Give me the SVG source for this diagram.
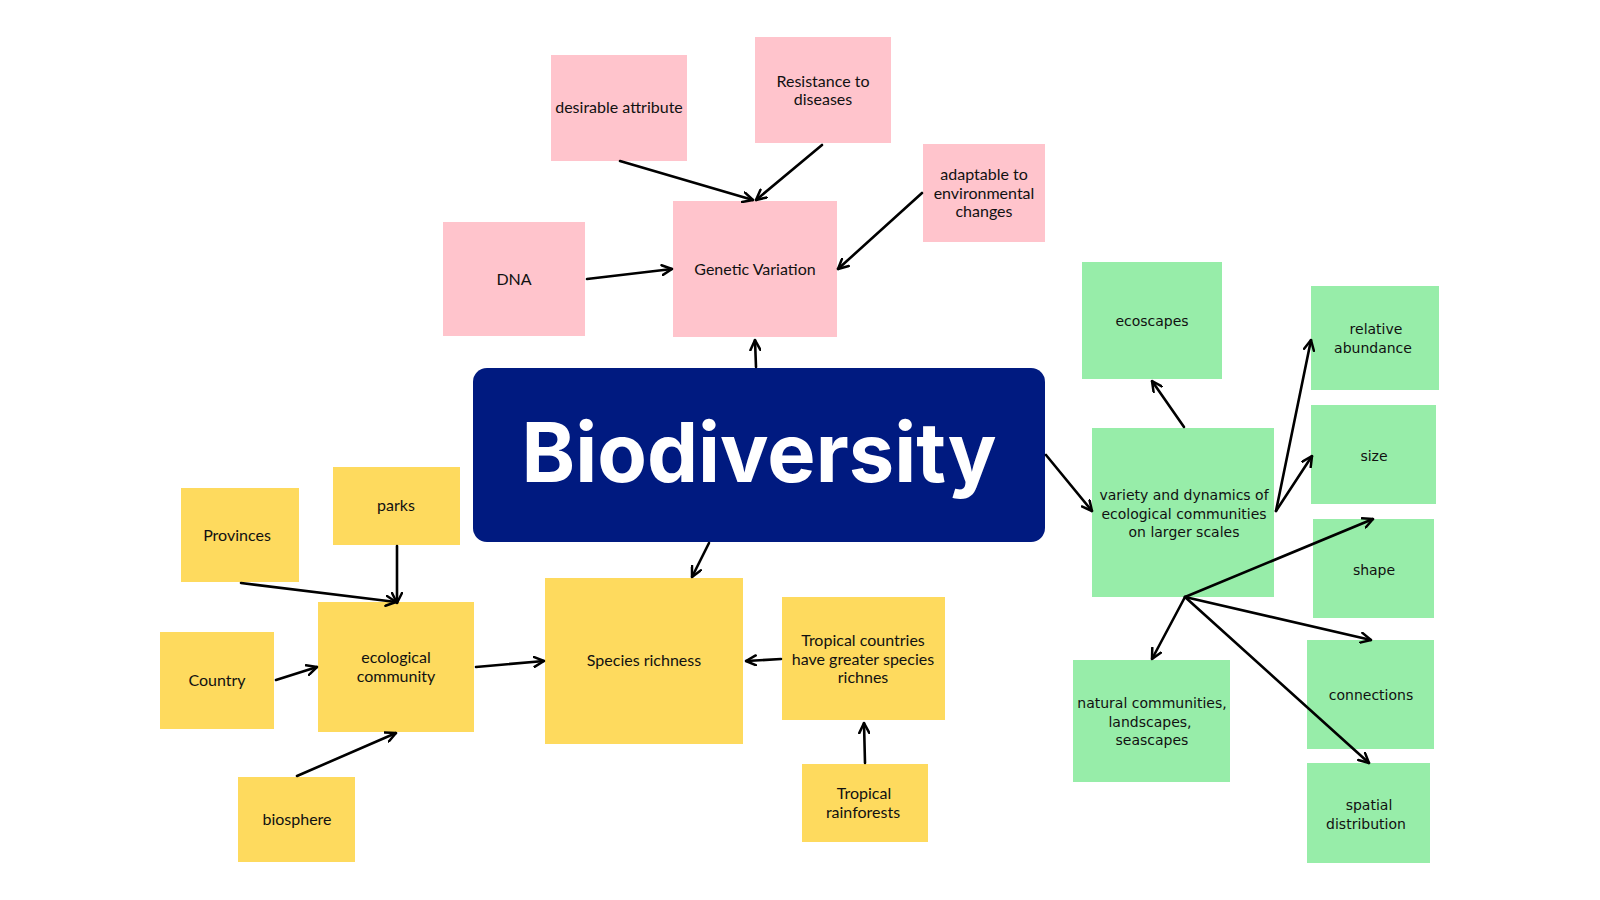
<svg xmlns="http://www.w3.org/2000/svg" width="1600" height="900" viewBox="0 0 1600 900">
<defs>
<marker id="ah" viewBox="0 0 12 12" refX="11" refY="6" markerWidth="12" markerHeight="12" markerUnits="userSpaceOnUse" orient="auto">
<path d="M1,1 L11,6 L1,11" fill="none" stroke="#000" stroke-width="2.5" stroke-linecap="round" stroke-linejoin="round"/>
</marker>
<style>
.pk{fill:#FFC4CC}
.yl{fill:#FEDA5E}
.gr{fill:#97EDA9}
.t{font-family:Lato,"Liberation Sans",sans-serif;font-size:16px;fill:#111;text-anchor:middle}
.g{font-family:"DejaVu Sans","Liberation Sans",sans-serif;font-size:14px;fill:#111;text-anchor:middle}
.c line{stroke:#000;stroke-width:2.6;stroke-linecap:round;marker-end:url(#ah)}
</style>
</defs>
<rect width="1600" height="900" fill="#fff"/>

<g id="n-desirable"><rect class="pk" x="551" y="55" width="136" height="106"/><text class="t" x="619" y="113">desirable attribute</text></g>
<g id="n-resistance"><rect class="pk" x="755" y="37" width="136" height="106"/><text class="t" x="823" y="87">Resistance to</text><text class="t" x="823" y="105">diseases</text></g>
<g id="n-adaptable"><rect class="pk" x="923" y="144" width="122" height="98"/><text class="t" x="984" y="180">adaptable to</text><text class="t" x="984" y="198.5">environmental</text><text class="t" x="984" y="217">changes</text></g>
<g id="n-dna"><rect class="pk" x="443" y="222" width="142" height="114"/><text class="t" x="514" y="285">DNA</text></g>
<g id="n-genetic"><rect class="pk" x="673" y="201" width="164" height="136"/><text class="t" x="755" y="275">Genetic Variation</text></g>

<g id="n-biodiversity"><rect x="473" y="368" width="572" height="174" rx="14" fill="#001A80"/><text x="759" y="482" font-family="Inter,'Liberation Sans',sans-serif" font-weight="700" font-size="82" fill="#fff" text-anchor="middle" textLength="475" lengthAdjust="spacingAndGlyphs">Biodiversity</text></g>

<g id="n-parks"><rect class="yl" x="333" y="467" width="127" height="78"/><text class="t" x="396" y="511">parks</text></g>
<g id="n-provinces"><rect class="yl" x="181" y="488" width="118" height="94"/><text class="t" x="237" y="541">Provinces</text></g>
<g id="n-country"><rect class="yl" x="160" y="632" width="114" height="97"/><text class="t" x="217" y="686">Country</text></g>
<g id="n-ecological"><rect class="yl" x="318" y="602" width="156" height="130"/><text class="t" x="396" y="663">ecological</text><text class="t" x="396" y="681.5">community</text></g>
<g id="n-biosphere"><rect class="yl" x="238" y="777" width="117" height="85"/><text class="t" x="297" y="825">biosphere</text></g>
<g id="n-species"><rect class="yl" x="545" y="578" width="198" height="166"/><text class="t" x="644" y="666">Species richness</text></g>
<g id="n-tropical-countries"><rect class="yl" x="782" y="597" width="163" height="123"/><text class="t" x="863" y="646">Tropical countries</text><text class="t" x="863" y="664.5">have greater species</text><text class="t" x="863" y="683">richnes</text></g>
<g id="n-rainforests"><rect class="yl" x="802" y="764" width="126" height="78"/><text class="t" x="864" y="799">Tropical</text><text class="t" x="863" y="817.5">rainforests</text></g>

<g id="n-ecoscapes"><rect class="gr" x="1082" y="262" width="140" height="117"/><text class="g" x="1152" y="326">ecoscapes</text></g>
<g id="n-variety"><rect class="gr" x="1092" y="428" width="182" height="169"/><text class="g" x="1184" y="500">variety and dynamics of</text><text class="g" x="1184" y="518.5">ecological communities</text><text class="g" x="1184" y="537">on larger scales</text></g>
<g id="n-relative"><rect class="gr" x="1311" y="286" width="128" height="104"/><text class="g" x="1376" y="334">relative</text><text class="g" x="1373" y="352.5">abundance</text></g>
<g id="n-size"><rect class="gr" x="1311" y="405" width="125" height="99"/><text class="g" x="1374" y="461">size</text></g>
<g id="n-shape"><rect class="gr" x="1313" y="519" width="121" height="99"/><text class="g" x="1374" y="575">shape</text></g>
<g id="n-connections"><rect class="gr" x="1307" y="640" width="127" height="109"/><text class="g" x="1371" y="700">connections</text></g>
<g id="n-spatial"><rect class="gr" x="1307" y="763" width="123" height="100"/><text class="g" x="1369" y="810">spatial</text><text class="g" x="1366" y="828.5">distribution</text></g>
<g id="n-natural"><rect class="gr" x="1073" y="660" width="157" height="122"/><text class="g" x="1152" y="708">natural communities,</text><text class="g" x="1150" y="726.5">landscapes,</text><text class="g" x="1152" y="745">seascapes</text></g>

<g id="connectors" class="c">
<line x1="620" y1="161" x2="753" y2="200"/>
<line x1="822" y1="145" x2="756" y2="200"/>
<line x1="922" y1="193" x2="838" y2="269"/>
<line x1="587" y1="279" x2="672" y2="269"/>
<line x1="756" y1="367" x2="755" y2="340"/>
<line x1="397" y1="546" x2="397" y2="603"/>
<line x1="241" y1="583" x2="396" y2="602"/>
<line x1="276" y1="680" x2="317" y2="667"/>
<line x1="297" y1="776" x2="396" y2="733"/>
<line x1="476" y1="667" x2="544" y2="661"/>
<line x1="709" y1="543" x2="692" y2="577"/>
<line x1="781" y1="659" x2="746" y2="661"/>
<line x1="865" y1="763" x2="864" y2="723"/>
<line x1="1046" y1="455" x2="1092" y2="511"/>
<line x1="1184" y1="427" x2="1152" y2="381"/>
<line x1="1276" y1="511" x2="1311" y2="340"/>
<line x1="1276" y1="511" x2="1312" y2="456"/>
<line x1="1185" y1="597" x2="1373" y2="519"/>
<line x1="1185" y1="597" x2="1371" y2="640"/>
<line x1="1185" y1="597" x2="1369" y2="763"/>
<line x1="1185" y1="597" x2="1152" y2="659"/>
</g>
</svg>
